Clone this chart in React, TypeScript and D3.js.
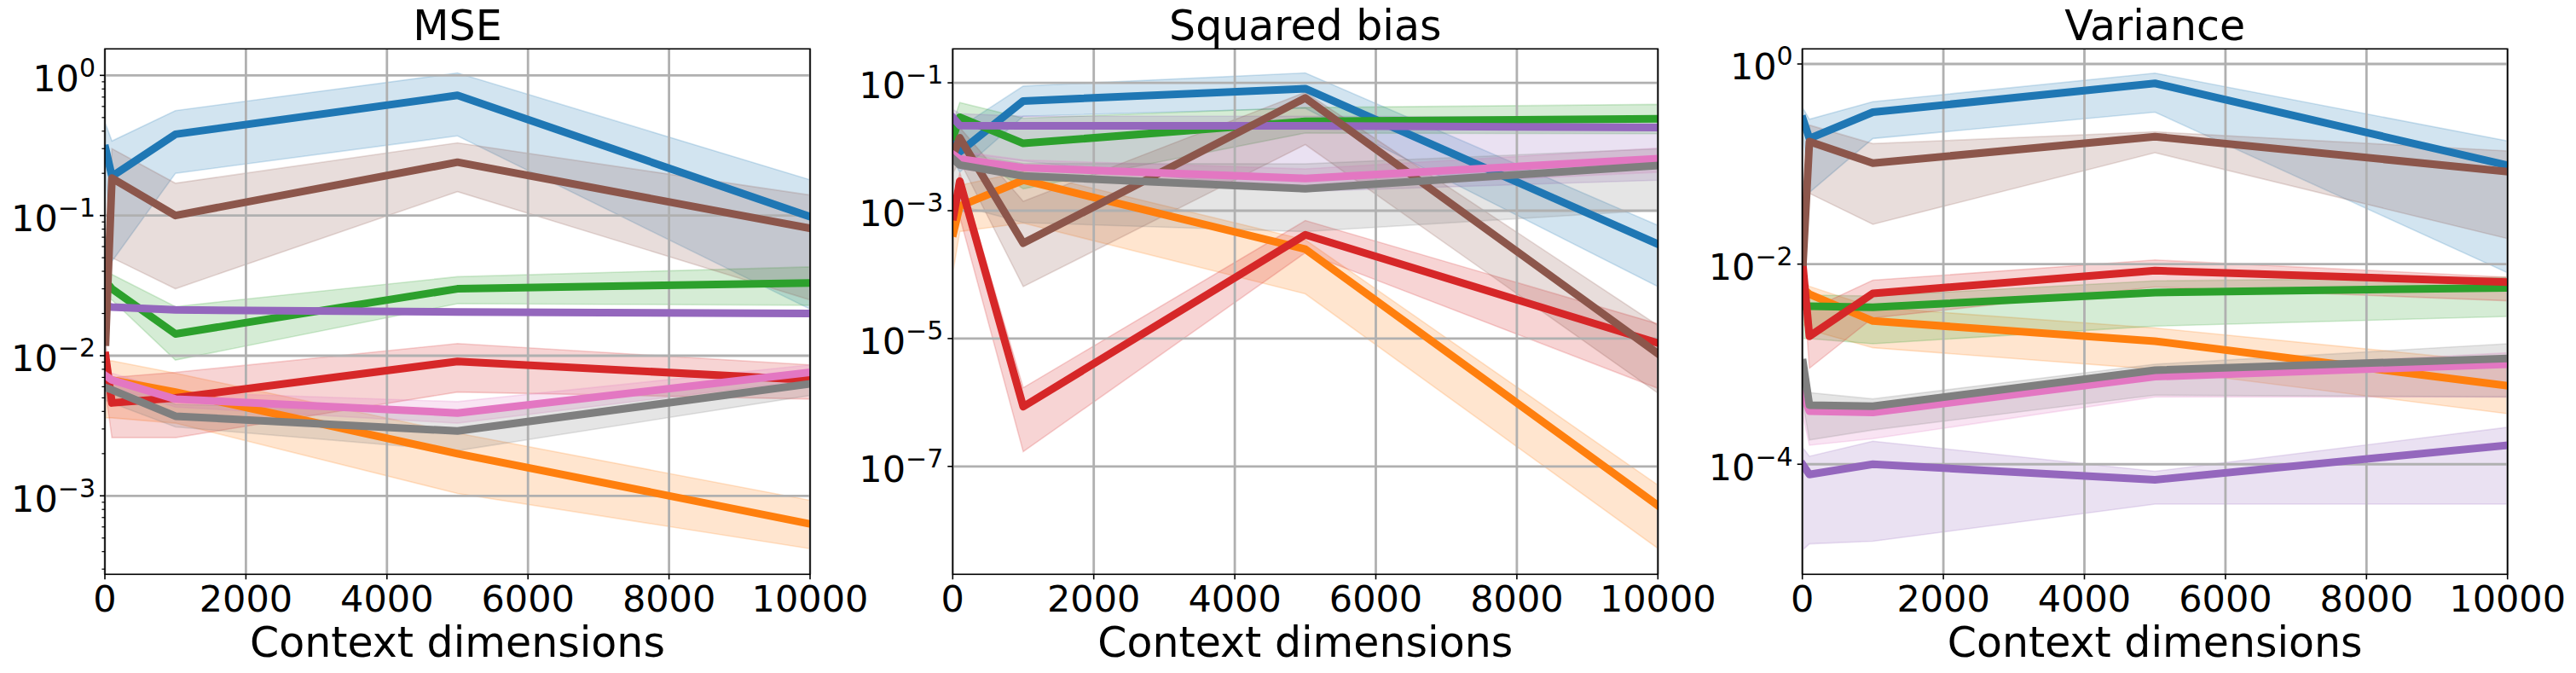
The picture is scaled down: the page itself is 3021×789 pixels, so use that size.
import * as d3 from 'd3';

// x positions shared by every series
const contextDims = [10, 100, 1000, 5000, 10000];
const xTicks = [0, 2000, 4000, 6000, 8000, 10000];

// tab10 order: blue, orange, green, red, purple, brown, pink, gray
const colors = ['#1f77b4', '#ff7f0e', '#2ca02c', '#d62728', '#9467bd', '#8c564b', '#e377c2', '#7f7f7f'];

const titles = ['MSE', 'Squared bias', 'Variance'];

// MSE
const mseMean = [
  [0.30, 0.19, 0.38, 0.72, 0.098],
  [0.0070, 0.0067, 0.0055, 0.0020, 0.00063],
  [0.034, 0.030, 0.0143, 0.030, 0.033],
  [0.010, 0.0046, 0.0050, 0.0091, 0.0067],
  [0.0225, 0.0222, 0.0212, 0.0205, 0.0200],
  [0.0125, 0.185, 0.10, 0.24, 0.081],
  [0.0072, 0.0067, 0.0049, 0.0039, 0.0076],
  [0.0059, 0.0057, 0.0037, 0.0029, 0.0063],
];
const mseLow = [
  [0.20, 0.047, 0.20, 0.37, 0.0215],
  [0.0036, 0.0036, 0.0033, 0.00104, 0.00042],
  [0.026, 0.025, 0.0093, 0.0235, 0.0229],
  [0.0055, 0.0026, 0.0026, 0.0055, 0.0049],
  [0.0215, 0.0212, 0.0203, 0.0196, 0.0191],
  [0.010, 0.05, 0.030, 0.148, 0.025],
  [0.0064, 0.0060, 0.0043, 0.0033, 0.0067],
  [0.0048, 0.0046, 0.0031, 0.0021, 0.0052],
];
const mseHigh = [
  [0.45, 0.34, 0.56, 1.04, 0.18],
  [0.0092, 0.0092, 0.0075, 0.0028, 0.00093],
  [0.040, 0.038, 0.0224, 0.0366, 0.043],
  [0.012, 0.007, 0.0076, 0.0122, 0.0086],
  [0.0235, 0.0232, 0.0221, 0.0214, 0.0209],
  [0.015, 0.30, 0.17, 0.33, 0.14],
  [0.0080, 0.0075, 0.0055, 0.0047, 0.0086],
  [0.0070, 0.0068, 0.0045, 0.0040, 0.0079],
];

// Squared bias
const biasMean = [
  [0.0146, 0.0083, 0.052, 0.081, 0.00030],
  [0.00045, 0.00118, 0.0030, 0.00025, 2.45e-8],
  [0.0146, 0.029, 0.0113, 0.0249, 0.0274],
  [0.00081, 0.0029, 8.6e-7, 0.00042, 8.5e-6],
  [0.028, 0.0215, 0.0213, 0.0213, 0.020],
  [0.0075, 0.0138, 0.00031, 0.058, 5.8e-6],
  [0.0075, 0.0064, 0.0047, 0.0032, 0.0065],
  [0.0064, 0.0052, 0.0035, 0.0022, 0.0051],
];
const biasLow = [
  [0.006, 0.004, 0.030, 0.040, 0.000065],
  [0.00012, 0.00047, 0.00064, 0.00005, 5.2e-9],
  [0.008, 0.010, 0.0022, 0.0164, 0.016],
  [0.0004, 0.0008, 1.7e-7, 0.00022, 1.66e-6],
  [0.006, 0.008, 0.006, 0.002, 0.003],
  [0.004, 0.006, 0.000065, 0.0108, 1.4e-6],
  [0.0055, 0.0045, 0.0033, 0.0022, 0.004],
  [0.003, 0.0012, 0.00065, 0.00047, 0.00102],
];
const biasHigh = [
  [0.03, 0.02, 0.089, 0.143, 0.00059],
  [0.0012, 0.0025, 0.0041, 0.00035, 5.1e-8],
  [0.025, 0.049, 0.028, 0.041, 0.046],
  [0.0012, 0.004, 1.7e-6, 0.0007, 1.7e-5],
  [0.038, 0.033, 0.030, 0.030, 0.029],
  [0.012, 0.02, 0.0014, 0.071, 1.6e-5],
  [0.010, 0.0085, 0.0062, 0.0045, 0.0095],
  [0.009, 0.008, 0.0055, 0.0054, 0.0093],
];

// Variance
const varMean = [
  [0.28, 0.18, 0.33, 0.64, 0.097],
  [0.0057, 0.005, 0.0027, 0.0017, 0.00061],
  [0.0038, 0.0038, 0.0037, 0.0052, 0.0058],
  [0.0093, 0.0019, 0.0051, 0.0086, 0.0066],
  [0.000098, 0.000079, 0.0001, 0.00007, 0.000155],
  [0.0105, 0.168, 0.102, 0.188, 0.084],
  [0.0005, 0.00034, 0.00033, 0.00075, 0.001],
  [0.00103, 0.00039, 0.00038, 0.00087, 0.00114],
];
const varLow = [
  [0.2, 0.052, 0.18, 0.33, 0.0082],
  [0.0025, 0.0022, 0.00146, 0.00089, 0.00032],
  [0.0018, 0.0018, 0.0016, 0.0024, 0.0030],
  [0.007, 0.00091, 0.0029, 0.0059, 0.0043],
  [0.000014, 0.000016, 0.000017, 0.00004, 0.00004],
  [0.009, 0.051, 0.025, 0.13, 0.018],
  [0.0003, 0.000155, 0.00018, 0.00047, 0.00047],
  [0.0004, 0.000175, 0.00022, 0.00049, 0.00047],
];
const varHigh = [
  [0.36, 0.28, 0.42, 0.81, 0.17],
  [0.0068, 0.006, 0.0037, 0.0023, 0.00103],
  [0.0050, 0.0049, 0.0048, 0.0068, 0.0074],
  [0.011, 0.0035, 0.0069, 0.011, 0.0074],
  [0.000145, 0.00012, 0.00017, 0.000085, 0.000234],
  [0.012, 0.245, 0.16, 0.21, 0.135],
  [0.0006, 0.0004, 0.0004, 0.00085, 0.0013],
  [0.0012, 0.00052, 0.00045, 0.001, 0.0016],
];

const yTickExps = [[0, -1, -2, -3], [-1, -3, -5, -7], [0, -2, -4]];
const yLogLimits = [[-3.56, 0.189], [-8.688, -0.469], [-5.10, 0.151]];

const panelData = [
  { mean: mseMean, low: mseLow, high: mseHigh },
  { mean: biasMean, low: biasLow, high: biasHigh },
  { mean: varMean, low: varLow, high: varHigh },
];

const W = 3021;
const H = 789;
const top = 57.3;
const bottom = 673.3;
const axW = 827;
const lefts = [123, 1117.3, 2113.7];
const font = 'DejaVu Sans';
const tickSize = 43;

function Panel({ i }: { i: number }) {
  const left = lefts[i];
  const x = d3.scaleLinear().domain([0, 10000]).range([left, left + axW]);
  const y = d3
    .scaleLog()
    .domain([10 ** yLogLimits[i][0], 10 ** yLogLimits[i][1]])
    .range([bottom, top]);
  const { mean, low, high } = panelData[i];

  const line = d3
    .line<number>()
    .x((_, k) => x(contextDims[k]))
    .y((d) => y(d));

  const clipId = `clip-${i}`;

  // minor ticks only on the first panel
  const minor: number[] = [];
  if (i === 0) {
    for (let e = -4; e <= 0; e++) {
      for (let m = 2; m <= 9; m++) {
        const v = m * 10 ** e;
        if (v >= y.domain()[0] && v <= y.domain()[1]) minor.push(v);
      }
    }
  }

  return (
    <g>
      <defs>
        <clipPath id={clipId}>
          <rect x={left} y={top} width={axW} height={bottom - top} />
        </clipPath>
      </defs>

      <g clipPath={`url(#${clipId})`}>
        {mean.map((_, s) => {
          const band = d3
            .area<number>()
            .x((_, k) => x(contextDims[k]))
            .y0((_, k) => y(low[s][k]))
            .y1((d) => y(d));
          return (
            <path
              key={s}
              d={band(high[s]) || ''}
              fill={colors[s]}
              fillOpacity={0.2}
              stroke={colors[s]}
              strokeOpacity={0.2}
              strokeWidth={1.6}
            />
          );
        })}
      </g>

      {/* grid */}
      {xTicks.map((t) => (
        <line key={`gx${t}`} x1={x(t)} x2={x(t)} y1={top} y2={bottom} stroke="#b0b0b0" strokeWidth={2.8} />
      ))}
      {yTickExps[i].map((e) => (
        <line key={`gy${e}`} x1={left} x2={left + axW} y1={y(10 ** e)} y2={y(10 ** e)} stroke="#b0b0b0" strokeWidth={2.8} />
      ))}

      <g clipPath={`url(#${clipId})`}>
        {mean.map((m, s) => (
          <path
            key={s}
            d={line(m) || ''}
            fill="none"
            stroke={colors[s]}
            strokeWidth={9}
            strokeLinejoin="round"
            strokeLinecap="square"
          />
        ))}
      </g>

      <rect x={left} y={top} width={axW} height={bottom - top} fill="none" stroke="#000" strokeWidth={1.6} />

      {/* x ticks */}
      {xTicks.map((t) => (
        <g key={`xt${t}`}>
          <line x1={x(t)} x2={x(t)} y1={bottom} y2={bottom + 6} stroke="#000" strokeWidth={1.6} />
          <text x={x(t)} y={bottom + 43.4} textAnchor="middle" fontFamily={font} fontSize={tickSize}>
            {t}
          </text>
        </g>
      ))}

      {/* y ticks */}
      {yTickExps[i].map((e) => (
        <g key={`yt${e}`}>
          <line x1={left - 6} x2={left} y1={y(10 ** e)} y2={y(10 ** e)} stroke="#000" strokeWidth={1.6} />
          <text x={left - 11} y={y(10 ** e) + 18.4} textAnchor="end" fontFamily={font} fontSize={tickSize}>
            10
            <tspan dy={-17} fontSize={30}>
              {e === 0 ? '0' : `\u2212${-e}`}
            </tspan>
          </text>
        </g>
      ))}
      {minor.map((v) => (
        <line key={`mt${v}`} x1={left - 3.6} x2={left} y1={y(v)} y2={y(v)} stroke="#000" strokeWidth={1.2} />
      ))}

      <text x={left + axW / 2} y={46.7} textAnchor="middle" fontFamily={font} fontSize={49}>
        {titles[i]}
      </text>
      <text x={left + axW / 2} y={769.6} textAnchor="middle" fontFamily={font} fontSize={49}>
        Context dimensions
      </text>
    </g>
  );
}

export default function App() {
  return (
    <div style={{ position: 'absolute', left: 0, top: 0 }}>
      <svg width={W} height={H} viewBox={`0 0 ${W} ${H}`} style={{ display: 'block', background: '#fff' }}>
        {[0, 1, 2].map((i) => (
          <Panel key={i} i={i} />
        ))}
      </svg>
    </div>
  );
}
